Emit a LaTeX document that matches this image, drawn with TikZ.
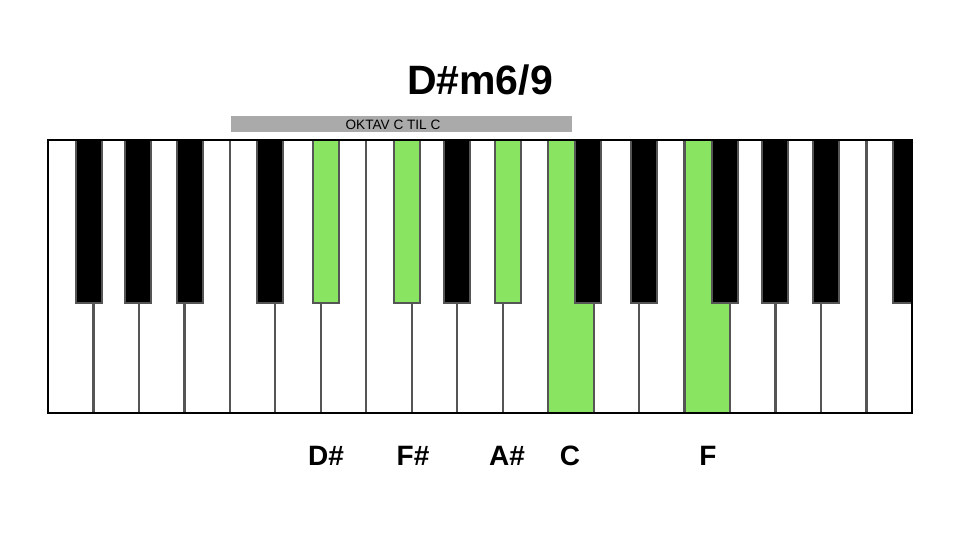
\documentclass[tikz,border=0pt]{standalone}
\usepackage{fontspec}
\setmainfont{Liberation Sans}
\usepackage{xcolor}
\definecolor{keygreen}{RGB}{137,228,98}
\definecolor{bargray}{RGB}{170,170,170}
\definecolor{linegray}{RGB}{85,85,85}
\def\kw{45.47}

\begin{document}
\begin{tikzpicture}[x=1pt,y=-1pt,
  note/.style={anchor=base,font=\fontsize{28}{32}\selectfont\bfseries},
  blackkey/.style={draw=linegray,line width=2pt,fill=#1}
]
  \useasboundingbox (0,0) rectangle (960,540);
  \node[anchor=base,font=\fontsize{41}{48}\selectfont\bfseries] (title) at (480,95) {D\#m6/9};
  \fill[bargray] (231,116) rectangle (572,132);
  \node[anchor=base,font=\fontsize{13.6}{15}\selectfont] (octave) at (393,130) {OKTAV C TIL C};
  % white keys
  \fill[white] (48,140) rectangle (912,413);
  \foreach \i in {11,14}
    \fill[keygreen] ({48+\i*\kw},140) rectangle ({48+(\i+1)*\kw},413);
  \foreach \i in {1,...,18}
    \draw[linegray,line width=2.2pt] ({48+\i*\kw},140) -- ({48+\i*\kw},413);
  % black keys
  \foreach \b/\o/\c in {1/-4.8/black,2/-0.5/black,3/5.3/black,5/-5.5/black,6/5/keygreen,
                        8/-4.8/keygreen,9/-0.5/black,10/5.3/keygreen,12/-5.5/black,13/5/black,
                        15/-4.8/black,16/-0.5/black,17/5.3/black}
    \draw[blackkey=\c] ({48+\b*\kw+\o-13},140) rectangle ({48+\b*\kw+\o+13},303);
  \draw[blackkey=black] ({48+19*\kw-5.5-13},140) rectangle (912,303);
  \draw[line width=2pt] (48,140) rectangle (912,413);
  \node[note] (dsharp) at (326,465) {D\#};
  \node[note] (fsharp) at (413,465) {F\#};
  \node[note] (asharp) at (507,465) {A\#};
  \node[note] (cnote) at (570,465) {C};
  \node[note] (fnote) at (708,465) {F};
\end{tikzpicture}
\end{document}
